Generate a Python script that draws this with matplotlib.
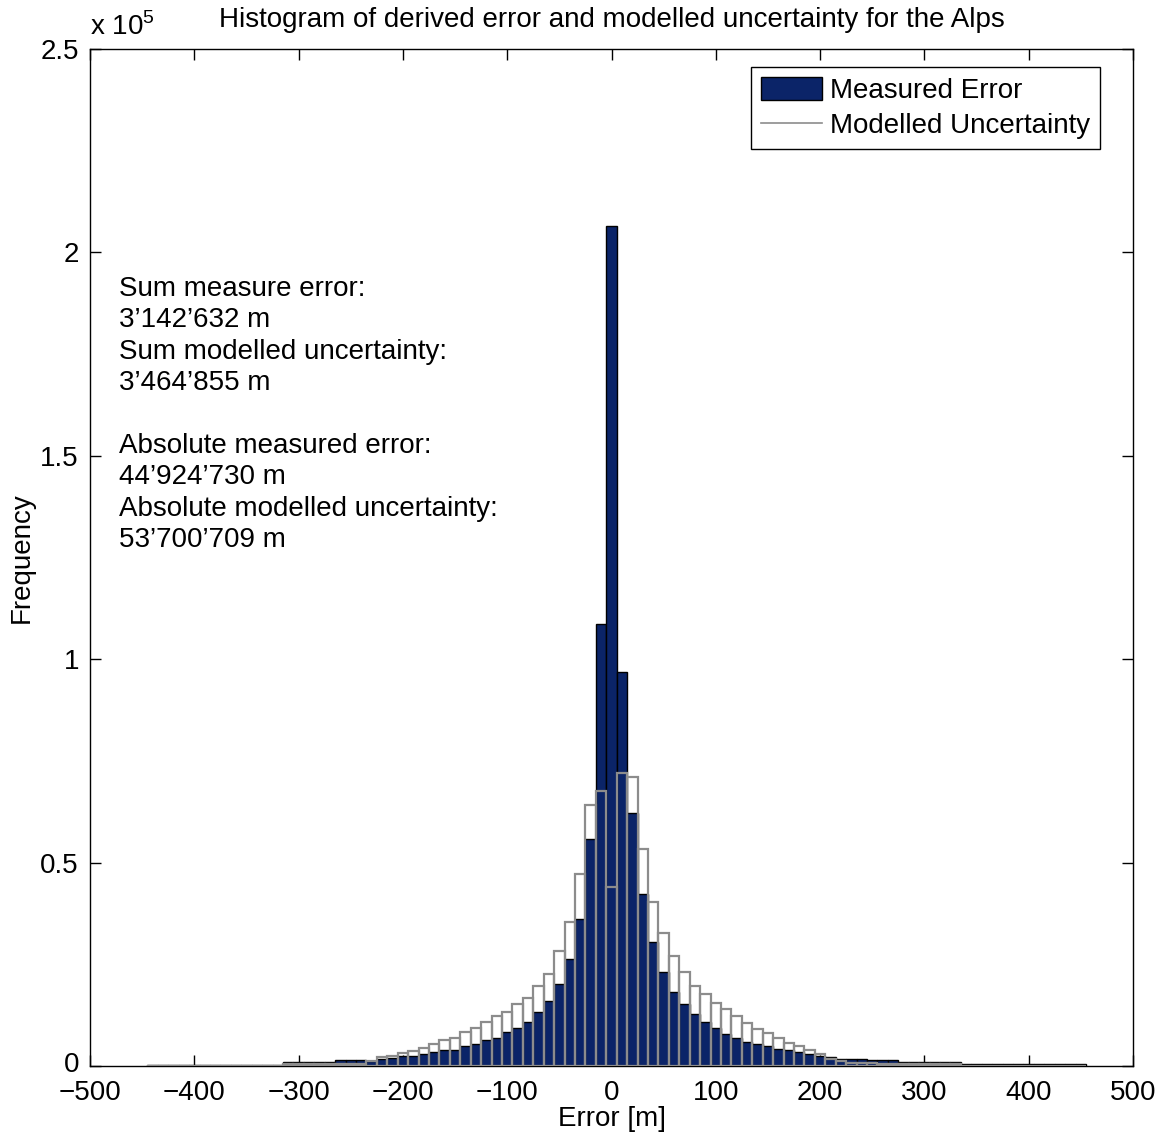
import matplotlib
matplotlib.use("Agg")
import matplotlib.pyplot as plt
import matplotlib.transforms as mtransforms
import numpy as np
from matplotlib.patches import Patch
from matplotlib.lines import Line2D

plt.rcParams['font.family'] = ['Liberation Sans', 'DejaVu Sans']
plt.rcParams['mathtext.fontset'] = 'custom'
plt.rcParams['mathtext.rm'] = 'Liberation Sans'
plt.rcParams['font.size'] = 20

# bin centres (10 m bins)
bin_centers = list(range(-440, 451, 10))

# Measured error counts (thousands), -440 ... 450
measured_k = ([0.3] * 13 +                 # -440 .. -320
              [1.0] * 5 +                  # -310 .. -270
              [1.5, 1.5, 1.5,              # -260 .. -240
               1.3, 1.7, 2.0, 2.5, 2.5, 2.9, 3.5, 3.9, 3.9, 4.9,   # -230 .. -140
               5.5, 6.4, 6.8, 8.4, 9.3, 10.8, 13.3, 16.1, 20.2, 26.2,  # -130 .. -40
               36.1, 55.8, 108.6, 206.5, 96.9, 62.2, 42.4, 30.5, 23.2, 18.3,  # -30 .. 60
               15.3, 12.8, 10.9, 9.3, 7.9, 6.8, 5.8, 5.35, 4.8, 4.3,  # 70 .. 160
               3.9, 3.4, 2.9, 2.5, 2.1, 1.6, 1.7, 1.7, 1.5, 1.5,     # 170 .. 260
               1.5] +                      # 270
              [1.0] * 6 +                  # 280 .. 330
              [0.4] * 12)                  # 340 .. 450

# Modelled uncertainty counts (thousands), -440 ... 450
modelled_k = ([0.1] * 13 +
              [0.4] * 5 +
              [0.6, 0.6, 0.6,
               1.2, 2.1, 2.5, 3.1, 3.6, 4.4, 5.5, 6.3, 6.8, 8.4,
               9.3, 10.7, 12.3, 13.3, 15.3, 16.8, 19.7, 22.6, 28.2, 35.5,
               47.3, 64.1, 67.6, 43.9, 72.1, 71.1, 53.3, 40.4, 32.6, 27.0,
               23.0, 19.7, 17.6, 15.6, 14.1, 12.3, 10.6, 9.2, 8.2, 6.8,
               5.7, 4.8, 3.9, 2.9, 1.8, 1.2, 0.8, 0.8, 0.8, 0.6,
               0.6] +
              [0.4] * 4 + [0.5] * 2 +
              [0.1] * 12)

measured = np.array(measured_k) * 1000
modelled = np.array(modelled_k) * 1000

x_ticks = [-500, -400, -300, -200, -100, 0, 100, 200, 300, 400, 500]
x_tick_labels = ['\u2212500', '\u2212400', '\u2212300', '\u2212200', '\u2212100', '0',
                 '100', '200', '300', '400', '500']
y_ticks = [0, 50000, 100000, 150000, 200000, 250000]
y_tick_labels = ['0', '0.5', '1', '1.5', '2', '2.5']

annotation = ("Sum measure error:\n3\u2019142\u2019632 m\nSum modelled uncertainty:\n3\u2019464\u2019855 m\n\n"
              "Absolute measured error:\n44\u2019924\u2019730 m\nAbsolute modelled uncertainty:\n53\u2019700\u2019709 m")

navy = '#0b2468'
grey = '#8c8c8c'

fig = plt.figure(figsize=(11.58, 11.34), dpi=100)
ax = fig.add_axes([90 / 1158, 68 / 1134, 1043 / 1158, 1017 / 1134])

ax.bar(bin_centers, measured, width=10, color=navy, edgecolor='black', linewidth=1.0, zorder=2)
ax.bar(bin_centers, modelled, width=10, fill=False, edgecolor=grey, linewidth=1.6, zorder=3)

ax.set_xlim(-500, 500)
ax.set_ylim(0, 250000)
ax.set_xticks(x_ticks)
ax.set_xticklabels(x_tick_labels)
ax.set_yticks(y_ticks)
ax.set_yticklabels(y_tick_labels)
ax.tick_params(direction='in', length=8, width=1, top=True, right=True)
ax.tick_params(axis='x', pad=10)
ax.tick_params(axis='y', pad=8)
for s in ax.spines.values():
    s.set_linewidth(1.0)
    s.set_color('black')

# nudge the y "0" label up slightly so it does not collide with the x "-500" label
zero_lbl = ax.get_yticklabels()[0]
zero_lbl.set_transform(zero_lbl.get_transform() +
                       mtransforms.ScaledTranslation(0, 4 / 100, fig.dpi_scale_trans))

ax.set_xlabel('Error [m]', labelpad=0)
ax.set_ylabel('Frequency', labelpad=4)
ax.set_title('Histogram of derived error and modelled uncertainty for the Alps', fontsize=20, pad=16)
ax.text(0.0, 1.008, 'x 10$^{5}$', transform=ax.transAxes, fontsize=20, va='bottom', ha='left')

ax.text(0.0278, 0.777, annotation, transform=ax.transAxes, va='top', ha='left', linespacing=1.27)

handles = [Patch(facecolor=navy, edgecolor='black', linewidth=1.0),
           Line2D([0], [0], color=grey, linewidth=1.2)]
leg = ax.legend(handles, ['Measured Error', 'Modelled Uncertainty'], loc='upper right',
                bbox_to_anchor=(0.9684, 0.9823), fancybox=False, framealpha=1,
                edgecolor='black', handlelength=2.2, handleheight=0.9, handletextpad=0.3,
                borderpad=0.35, labelspacing=0.3, borderaxespad=0)
leg.get_frame().set_linewidth(1.0)

fig.savefig('out.png', dpi=100)
